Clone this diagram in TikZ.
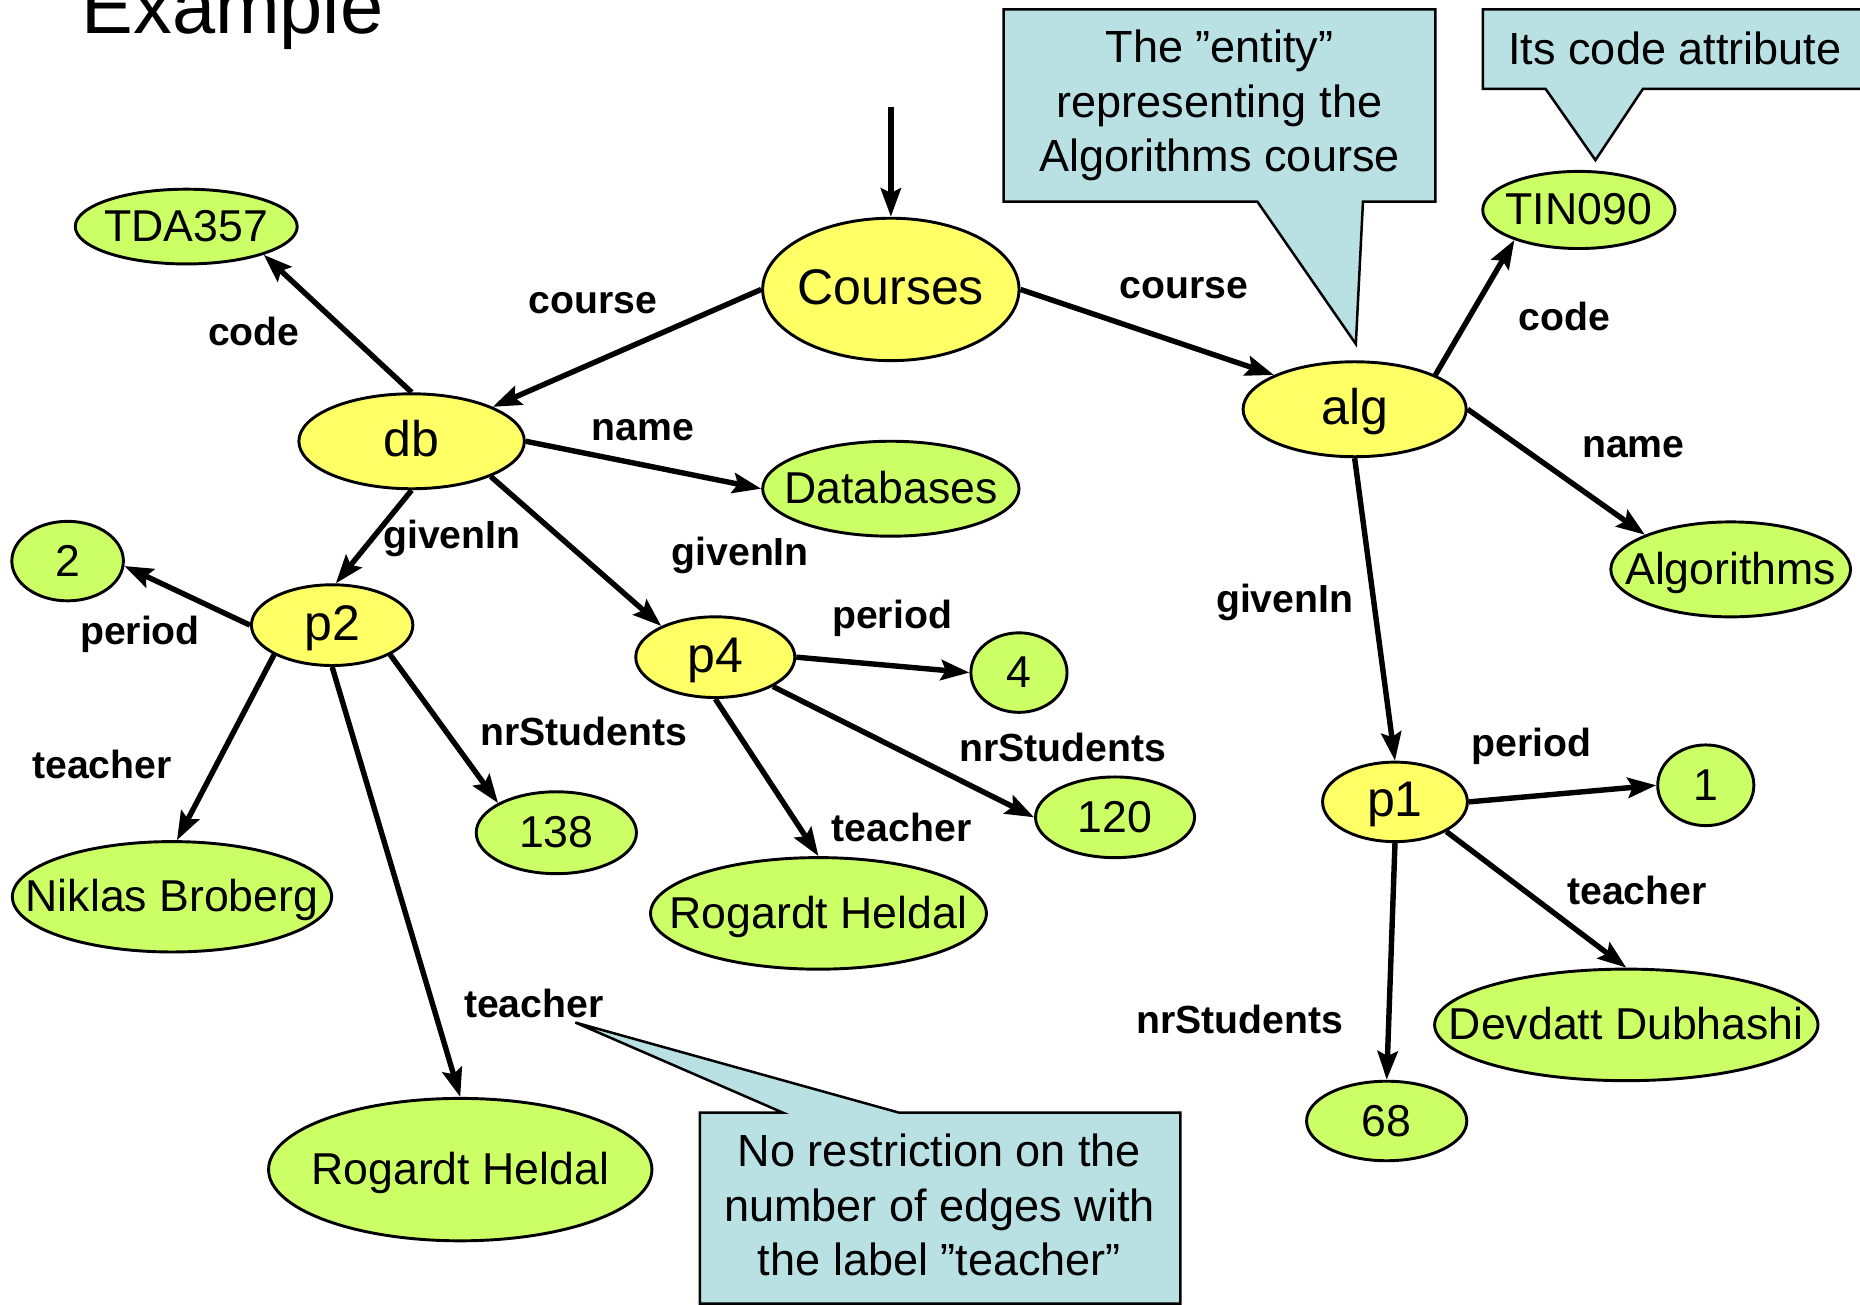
\documentclass[tikz,border=0pt]{standalone}
\usepackage{fontspec}
\setmainfont{Liberation Sans}
\usetikzlibrary{shapes.geometric, arrows.meta, positioning}
\definecolor{objyellow}{HTML}{FFFF66}
\definecolor{valgreen}{HTML}{CCFF66}
\definecolor{notecyan}{HTML}{B9E0E3}
\newcommand{\ztext}[1]{\makebox[0pt]{#1}}

\begin{document}
\begin{tikzpicture}[
    x=0.01cm, y=-0.01cm,
    obj/.style={ellipse, draw=black, fill=objyellow, line width=0.7pt, inner sep=0pt, text height=0.72em, text depth=0pt, font=\fontsize{12}{14}\selectfont},
    val/.style={ellipse, draw=black, fill=valgreen, line width=0.7pt, inner sep=0pt, text height=0.72em, text depth=0pt, font=\fontsize{10.7}{12.8}\selectfont},
    sz/.style 2 args={minimum width=#1cm, minimum height=#2cm},
    lbl/.style={inner sep=0pt, text height=0.72em, text depth=0pt, font=\fontsize{9.4}{11}\selectfont\bfseries},
    note/.style={fill=notecyan, draw=black, line width=0.6pt},
    notetext/.style={align=center, inner sep=0pt, font=\fontsize{10.8}{13.1}\selectfont},
    arr/.style={-{Stealth[length=0.24cm, width=0.17cm, inset=0.04cm]}, line width=1.3pt}
]
\useasboundingbox (0,0) rectangle (1568,1100);

\node[anchor=base west, inner sep=0pt, font=\fontsize{18.6}{22}\selectfont] (title) at (68,28) {Example};

% callouts
\path[note] (846,8) -- (1210,8) -- (1210,170) -- (1149,170) -- (1143,290) -- (1060,170) -- (846,170) -- cycle;
\path[note] (1250,8) -- (1580,8) -- (1580,75) -- (1385,75) -- (1345,135) -- (1303,75) -- (1250,75) -- cycle;
\path[note] (590,938) -- (660,938) -- (485,862) -- (758,938) -- (995,938) -- (995,1099) -- (590,1099) -- cycle;
\node[notetext] (entitynote) at (1028,89) {The ”entity”\\representing the\\Algorithms course};
\node[notetext] (codenote) at (1412,41) {Its code attribute};
\node[notetext] (teachnote) at (792,1016) {No restriction on the\\number of edges with\\the label ”teacher”};

% objects
\node[obj, sz={2.16}{1.20}] (courses) at (751,244) {\ztext{Courses}};
\node[obj, sz={1.90}{0.80}] (db) at (347,372) {\ztext{db}};
\node[obj, sz={1.88}{0.80}] (alg) at (1142,345) {\ztext{alg}};
\node[obj, sz={1.36}{0.68}] (p2) at (280,527) {\ztext{p2}};
\node[obj, sz={1.34}{0.68}] (p4) at (603,554) {\ztext{p4}};
\node[obj, sz={1.22}{0.67}] (p1) at (1176,676) {\ztext{p1}};

% values
\node[val, sz={1.87}{0.63}] (tda) at (157,191) {\ztext{TDA357}};
\node[val, sz={2.16}{0.80}] (dbname) at (751,412) {\ztext{Databases}};
\node[val, sz={1.62}{0.65}] (tin) at (1331,177) {\ztext{TIN090}};
\node[val, sz={2.02}{0.80}] (algname) at (1459,480) {\ztext{Algorithms}};
\node[val, sz={0.94}{0.67}] (per2) at (57,473) {\ztext{2}};
\node[val, sz={0.81}{0.67}] (per4) at (859,567) {\ztext{4}};
\node[val, sz={1.35}{0.69}] (nr138) at (469,702) {\ztext{138}};
\node[val, sz={1.34}{0.68}] (nr120) at (940,689) {\ztext{120}};
\node[val, sz={0.81}{0.68}] (per1) at (1438,662) {\ztext{1}};
\node[val, sz={2.69}{0.93}] (niklas) at (145,756) {\ztext{Niklas Broberg}};
\node[val, sz={2.83}{0.94}] (rogardtA) at (690,770) {\ztext{Rogardt Heldal}};
\node[val, sz={3.23}{1.20}] (rogardtB) at (388,986) {\ztext{Rogardt Heldal}};
\node[val, sz={3.23}{0.94}] (devdatt) at (1371,864) {\ztext{Devdatt Dubhashi}};
\node[val, sz={1.35}{0.67}] (nr68) at (1169,945) {\ztext{68}};

% edge labels
\node[lbl] (courseL) at (500,252) {course};
\node[lbl] (courseR) at (998,239) {course};
\node[lbl] (codeL) at (214,279) {code};
\node[lbl] (nameL) at (542,359) {name};
\node[lbl] (givenA) at (381,450) {givenIn};
\node[lbl] (givenB) at (624,464) {givenIn};
\node[lbl] (codeR) at (1319,266) {code};
\node[lbl] (nameR) at (1377,373) {name};
\node[lbl] (givenC) at (1083,504) {givenIn};
\node[lbl] (periodA) at (118,531) {period};
\node[lbl] (teacherA) at (86,644) {teacher};
\node[lbl] (nrA) at (492,616) {nrStudents};
\node[lbl] (teacherB) at (450,845) {teacher};
\node[lbl] (periodB) at (752,517) {period};
\node[lbl] (teacherC) at (760,697) {teacher};
\node[lbl] (nrB) at (896,629) {nrStudents};
\node[lbl] (periodC) at (1291,625) {period};
\node[lbl] (teacherD) at (1380,750) {teacher};
\node[lbl] (nrC) at (1045,859) {nrStudents};

% edges
\coordinate (entry) at (751,90);
\draw[arr] (entry) -- (courses.north);
\draw[arr] (courses.west) -- (db.23);
\draw[arr] (courses.east) -- (alg.157);
\draw[arr] (db.north) -- (tda.-20);
\draw[arr] (db.east) -- (dbname.west);
\draw[arr] (db.south) -- (p2.85);
\draw[arr] (db.-24) -- (p4.150);
\draw[arr] (alg.23) -- (tin.205);
\draw[arr] (alg.east) -- (algname.158);
\draw[arr] (alg.south) -- (p1.north);
\draw[arr] (p2.west) -- (per2.-5);
\draw[arr] (p2.207) -- (niklas.85);
\draw[arr] (p2.south) -- (rogardtB.north);
\draw[arr] (p2.-27) -- (nr138.153);
\draw[arr] (p4.east) -- (per4.west);
\draw[arr] (p4.south) -- (rogardtA.north);
\draw[arr] (p4.-27) -- (nr120.west);
\draw[arr] (p1.east) -- (per1.west);
\draw[arr] (p1.-30) -- (devdatt.north);
\draw[arr] (p1.south) -- (nr68.north);
\end{tikzpicture}
\end{document}
